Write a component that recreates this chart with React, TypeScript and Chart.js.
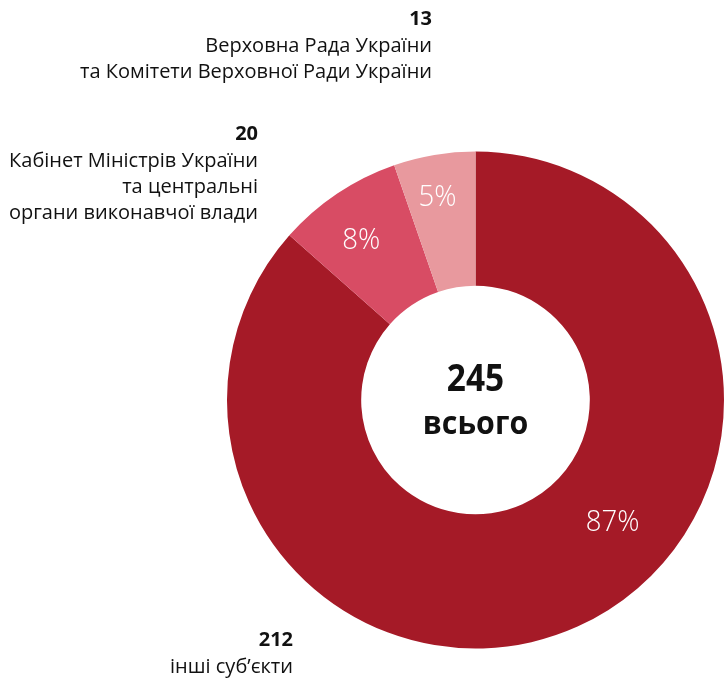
import React, { useEffect, useRef } from "react";
import { Chart, registerables } from "chart.js";

Chart.register(...registerables);

const categories = [
  "інші суб\u2019єкти",
  "Кабінет Міністрів України та центральні органи виконавчої влади",
  "Верховна Рада України та Комітети Верховної Ради України",
];
const values = [212, 20, 13];
const colors = ["#A51A27", "#D84C64", "#E8999E"];
const centerLabel = "всього";

// label text lines per category (outside)
const outsideLines = [
  ["інші суб\u2019єкти"],
  ["Кабінет Міністрів України", "та центральні", "органи виконавчої влади"],
  ["Верховна Рада України", "та Комітети Верховної Ради України"],
];

const FONT = "'Open Sans', 'Noto Sans', sans-serif";

function drawText(ctx: any, text: string, x: number, y: number, align: string, font: string, sx: number) {
  ctx.save();
  ctx.translate(x, y);
  ctx.scale(sx, 1);
  ctx.textAlign = align;
  ctx.font = font;
  ctx.fillText(text, 0, 0);
  ctx.restore();
}

export default function App() {
  const ref = useRef<HTMLCanvasElement | null>(null);

  useEffect(() => {
    document.body.style.margin = "0";
    const canvas = ref.current;
    if (!canvas) return;
    const total = values.reduce((a, b) => a + b, 0);

    // placement of in-arc labels: [fraction along arc, fraction of outer radius]
    const pctPlace = [
      [0.423, 0.74],
      [0.44, 0.79],
      [0.445, 0.83],
    ];
    // outside label anchors (right aligned x, y of the number)
    const outsidePos = [
      { x: 293, y: 640, lh: 26 },
      { x: 258, y: 134, lh: 26 },
      { x: 432, y: 19, lh: 26 },
    ];

    const labelsPlugin = {
      id: "labelsPlugin",
      afterDraw(chart: any) {
        const ctx = chart.ctx;
        const meta = chart.getDatasetMeta(0);
        ctx.save();
        ctx.textBaseline = "middle";
        // percentages
        meta.data.forEach((arc: any, i: number) => {
          const [af, rf] = pctPlace[i];
          const a = arc.startAngle + (arc.endAngle - arc.startAngle) * af;
          const r = arc.outerRadius * rf;
          const x = arc.x + Math.cos(a) * r;
          const y = arc.y + Math.sin(a) * r;
          ctx.fillStyle = "#ffffff";
          drawText(ctx, Math.round((values[i] / total) * 100) + "%", x, y, "center", `300 29px ${FONT}`, 0.95);
        });
        // center
        const c = meta.data[0];
        ctx.fillStyle = "#111111";
        drawText(ctx, String(total), c.x, c.y - 20, "center", `bold 38px ${FONT}`, 0.88);
        drawText(ctx, centerLabel, c.x, c.y + 25, "center", `bold 33px ${FONT}`, 0.92);
        // outside labels
        outsideLines.forEach((lines, i) => {
          const p = outsidePos[i];
          ctx.fillStyle = "#111111";
          drawText(ctx, String(values[i]), p.x, p.y, "right", `bold 20px ${FONT}`, 1);
          lines.forEach((ln, j) => {
            drawText(ctx, ln, p.x, p.y + (j + 1) * p.lh + 1, "right", `20px ${FONT}`, 1);
          });
        });
        ctx.restore();
      },
    };

    const chart = new Chart(canvas, {
      type: "doughnut",
      data: {
        labels: categories,
        datasets: [
          {
            data: values,
            backgroundColor: colors,
            borderWidth: 0,
          },
        ],
      },
      options: {
        responsive: false,
        animation: false,
        cutout: "46%",
        layout: { padding: { left: 227, right: 0, top: 151, bottom: 34 } },
        plugins: {
          legend: { display: false },
          tooltip: { enabled: false },
        },
      },
      plugins: [labelsPlugin],
    });
    return () => chart.destroy();
  }, []);

  return (
    <div style={{ width: 724, height: 683, background: "#ffffff" }}>
      <canvas ref={ref} width={724} height={683} style={{ display: "block" }} />
    </div>
  );
}
